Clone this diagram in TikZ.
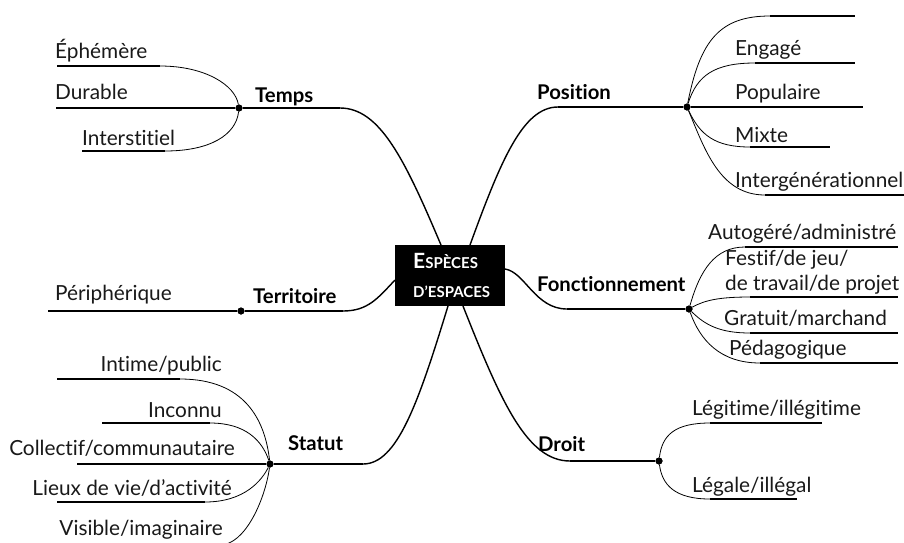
\documentclass[tikz,border=0pt]{standalone}
\usepackage{fontspec}
\setmainfont{Lato}[Ligatures={NoCommon}]
\begin{document}
\begin{tikzpicture}[x=1pt,y=-1pt,
  mainline/.style={line width=2.2pt},
  maincurve/.style={line width=1.4pt},
  subline/.style={line width=1.5pt},
  subcurve/.style={line width=0.8pt},
  hub/.style={circle,fill=black,inner sep=0pt,minimum size=7pt},
  leaf/.style={font=\fontsize{20.8}{24}\selectfont,inner sep=0pt,text=black!90},
  cat/.style={font=\fontsize{20.3}{24}\selectfont\bfseries,inner sep=0pt},
  title/.style={font=\bfseries,text=white,inner sep=0pt},
  centerbox/.style={fill=black,minimum width=110pt,minimum height=61pt,inner sep=0pt}
]
\useasboundingbox (0,0) rectangle (904,542);
\clip (0,0) rectangle (904,542);

% hubs
\node[hub] (temps) at (239,108) {};
\node[hub] (position) at (687,107) {};
\node[hub] (territoire) at (241,311) {};
\node[hub] (fonct) at (689,309) {};
\node[hub] (statut) at (270,464) {};
\node[hub] (droit) at (659,461) {};

% attach coordinates on centre box
\coordinate (tA) at (441,245); \coordinate (tB) at (340,108);
\coordinate (pA) at (470,245); \coordinate (pB) at (558,107);
\coordinate (teA) at (395,280); \coordinate (teB) at (343,311);
\coordinate (fA) at (505,269); \coordinate (fB) at (567,309);
\coordinate (sA) at (448,306); \coordinate (sB) at (363,464);
\coordinate (dA) at (463,306); \coordinate (dB) at (570,461);

% main branches
\draw[maincurve] (tA) .. controls (405,160) and (380,108) .. (tB);
\draw[mainline] (tB) -- (temps);
\draw[maincurve] (pA) .. controls (501,160) and (523,107) .. (pB);
\draw[mainline] (pB) -- (position);
\draw[maincurve] (teA) .. controls (378,298) and (368,311) .. (teB);
\draw[mainline] (teB) -- (territoire);
\draw[maincurve] (fA) .. controls (525,272) and (535,309) .. (fB);
\draw[mainline] (fB) -- (fonct);
\draw[maincurve] (sA) .. controls (418,404) and (397,464) .. (sB);
\draw[mainline] (sB) -- (statut);
\draw[maincurve] (dA) .. controls (501,402) and (527,461) .. (dB);
\draw[mainline] (dB) -- (droit);

% Temps children
\coordinate (e1) at (160,66); \coordinate (e0) at (57,66);
\coordinate (d0) at (56,108);
\coordinate (i1) at (165,151); \coordinate (i0) at (82,151);
\draw[subcurve] (temps) .. controls (235,85) and (205,66) .. (e1);
\draw[subline] (e1) -- (e0);
\draw[subline] (temps) -- (d0);
\draw[subcurve] (temps) .. controls (236,135) and (210,151) .. (i1);
\draw[subline] (i1) -- (i0);

% Position children
\coordinate (p1b) at (770,16); \coordinate (p1e) at (855,16);
\coordinate (p2b) at (755,63); \coordinate (p2e) at (855,63);
\coordinate (p3e) at (863,107);
\coordinate (p4b) at (750,147); \coordinate (p4e) at (830,147);
\coordinate (p5b) at (765,195); \coordinate (p5e) at (910,195);
\draw[subcurve] (position) .. controls (700,40) and (720,16) .. (p1b);
\draw[subline] (p1b) -- (p1e);
\draw[subcurve] (position) .. controls (697,75) and (715,63) .. (p2b);
\draw[subline] (p2b) -- (p2e);
\draw[subline] (position) -- (p3e);
\draw[subcurve] (position) .. controls (700,135) and (715,147) .. (p4b);
\draw[subline] (p4b) -- (p4e);
\draw[subcurve] (position) .. controls (705,150) and (720,195) .. (p5b);
\draw[subline] (p5b) -- (p5e);

% Territoire child
\coordinate (te0) at (48,311);
\draw[subline] (territoire) -- (te0);

% Fonctionnement children
\coordinate (f1b) at (745,247); \coordinate (f1e) at (898,247);
\coordinate (f2b) at (750,297); \coordinate (f2e) at (898,297);
\coordinate (f3b) at (750,333); \coordinate (f3e) at (898,333);
\coordinate (f4b) at (760,363); \coordinate (f4e) at (898,363);
\draw[subcurve] (fonct) .. controls (700,270) and (715,247) .. (f1b);
\draw[subline] (f1b) -- (f1e);
\draw[subcurve] (fonct) .. controls (705,300) and (720,297) .. (f2b);
\draw[subline] (f2b) -- (f2e);
\draw[subcurve] (fonct) .. controls (705,325) and (720,333) .. (f3b);
\draw[subline] (f3b) -- (f3e);
\draw[subcurve] (fonct) .. controls (700,340) and (720,363) .. (f4b);
\draw[subline] (f4b) -- (f4e);

% Statut children
\coordinate (s1b) at (180,379); \coordinate (s1e) at (57,379);
\coordinate (s2b) at (210,423); \coordinate (s2e) at (102,423);
\coordinate (s3e) at (77,464);
\coordinate (s4b) at (205,502); \coordinate (s4e) at (57,502);
\coordinate (s5b) at (220,545); \coordinate (s5e) at (57,545);
\draw[subcurve] (statut) .. controls (265,420) and (245,379) .. (s1b);
\draw[subline] (s1b) -- (s1e);
\draw[subcurve] (statut) .. controls (262,440) and (245,423) .. (s2b);
\draw[subline] (s2b) -- (s2e);
\draw[subline] (statut) -- (s3e);
\draw[subcurve] (statut) .. controls (262,480) and (245,502) .. (s4b);
\draw[subline] (s4b) -- (s4e);
\draw[subcurve] (statut) .. controls (265,500) and (245,545) .. (s5b);
\draw[subline] (s5b) -- (s5e);

% Droit children
\coordinate (l1b) at (710,423); \coordinate (l1e) at (822,423);
\coordinate (l2b) at (710,499); \coordinate (l2e) at (797,499);
\draw[subcurve] (droit) .. controls (662,435) and (675,423) .. (l1b);
\draw[subline] (l1b) -- (l1e);
\draw[subcurve] (droit) .. controls (662,485) and (675,499) .. (l2b);
\draw[subline] (l2b) -- (l2e);

% centre box
\node[centerbox] (center) at (450,275.5) {};
\node[title,anchor=base west] (t1) at (413,268) {\fontsize{21}{24}\selectfont E\fontsize{15}{18}\selectfont SPÈCES};
\node[title,anchor=base west] (t2) at (413,297) {\fontsize{15}{18}\selectfont D’ESPACES};

% hubs on top
\fill (temps) circle (3.5pt);
\fill (position) circle (3.5pt);
\fill (territoire) circle (3.5pt);
\fill (fonct) circle (3.5pt);
\fill (statut) circle (3.5pt);
\fill (droit) circle (3.5pt);

% category labels
\node[cat,anchor=base west] (lt) at (255,102) {Temps};
\node[cat,anchor=base west] (lp) at (537,99) {Position};
\node[cat,anchor=base west] (lte) at (253,303) {Territoire};
\node[cat,anchor=base west] (lf) at (537,291) {Fonctionnement};
\node[cat,anchor=base west] (ls) at (288,450) {Statut};
\node[cat,anchor=base west] (ld) at (538,451) {Droit};

% leaf labels
\node[leaf,anchor=base west] (x1) at (55,58) {Éphémère};
\node[leaf,anchor=base west] (x2) at (55,99) {Durable};
\node[leaf,anchor=base west] (x3) at (82,145) {Interstitiel};
\node[leaf,anchor=base west] (x4) at (735,55) {Engagé};
\node[leaf,anchor=base west] (x5) at (735,99) {Populaire};
\node[leaf,anchor=base west] (x6) at (735,142) {Mixte};
\node[leaf,anchor=base west] (x7) at (735,187) {Intergénérationnel};
\node[leaf,anchor=base west] (x8) at (55,300) {Périphérique};
\node[leaf,anchor=base west] (x9) at (708,239) {Autogéré/administré};
\node[leaf,anchor=base west] (x10) at (725,265) {Festif/de jeu/};
\node[leaf,anchor=base west] (x11) at (725,290) {de travail/de projet};
\node[leaf,anchor=base west] (x12) at (724,325) {Gratuit/marchand};
\node[leaf,anchor=base west] (x13) at (729,355) {Pédagogique};
\node[leaf,anchor=base east] (x14) at (222,371) {Intime/public};
\node[leaf,anchor=base east] (x15) at (222,417) {Inconnu};
\node[leaf,anchor=base east] (x16) at (235,455) {Collectif/communautaire};
\node[leaf,anchor=base east] (x17) at (232,495) {Lieux de vie/d’activité};
\node[leaf,anchor=base east] (x18) at (223,535) {Visible/imaginaire};
\node[leaf,anchor=base west] (x19) at (692,415) {Légitime/illégitime};
\node[leaf,anchor=base west] (x20) at (692,492) {Légale/illégal};
\end{tikzpicture}
\end{document}
